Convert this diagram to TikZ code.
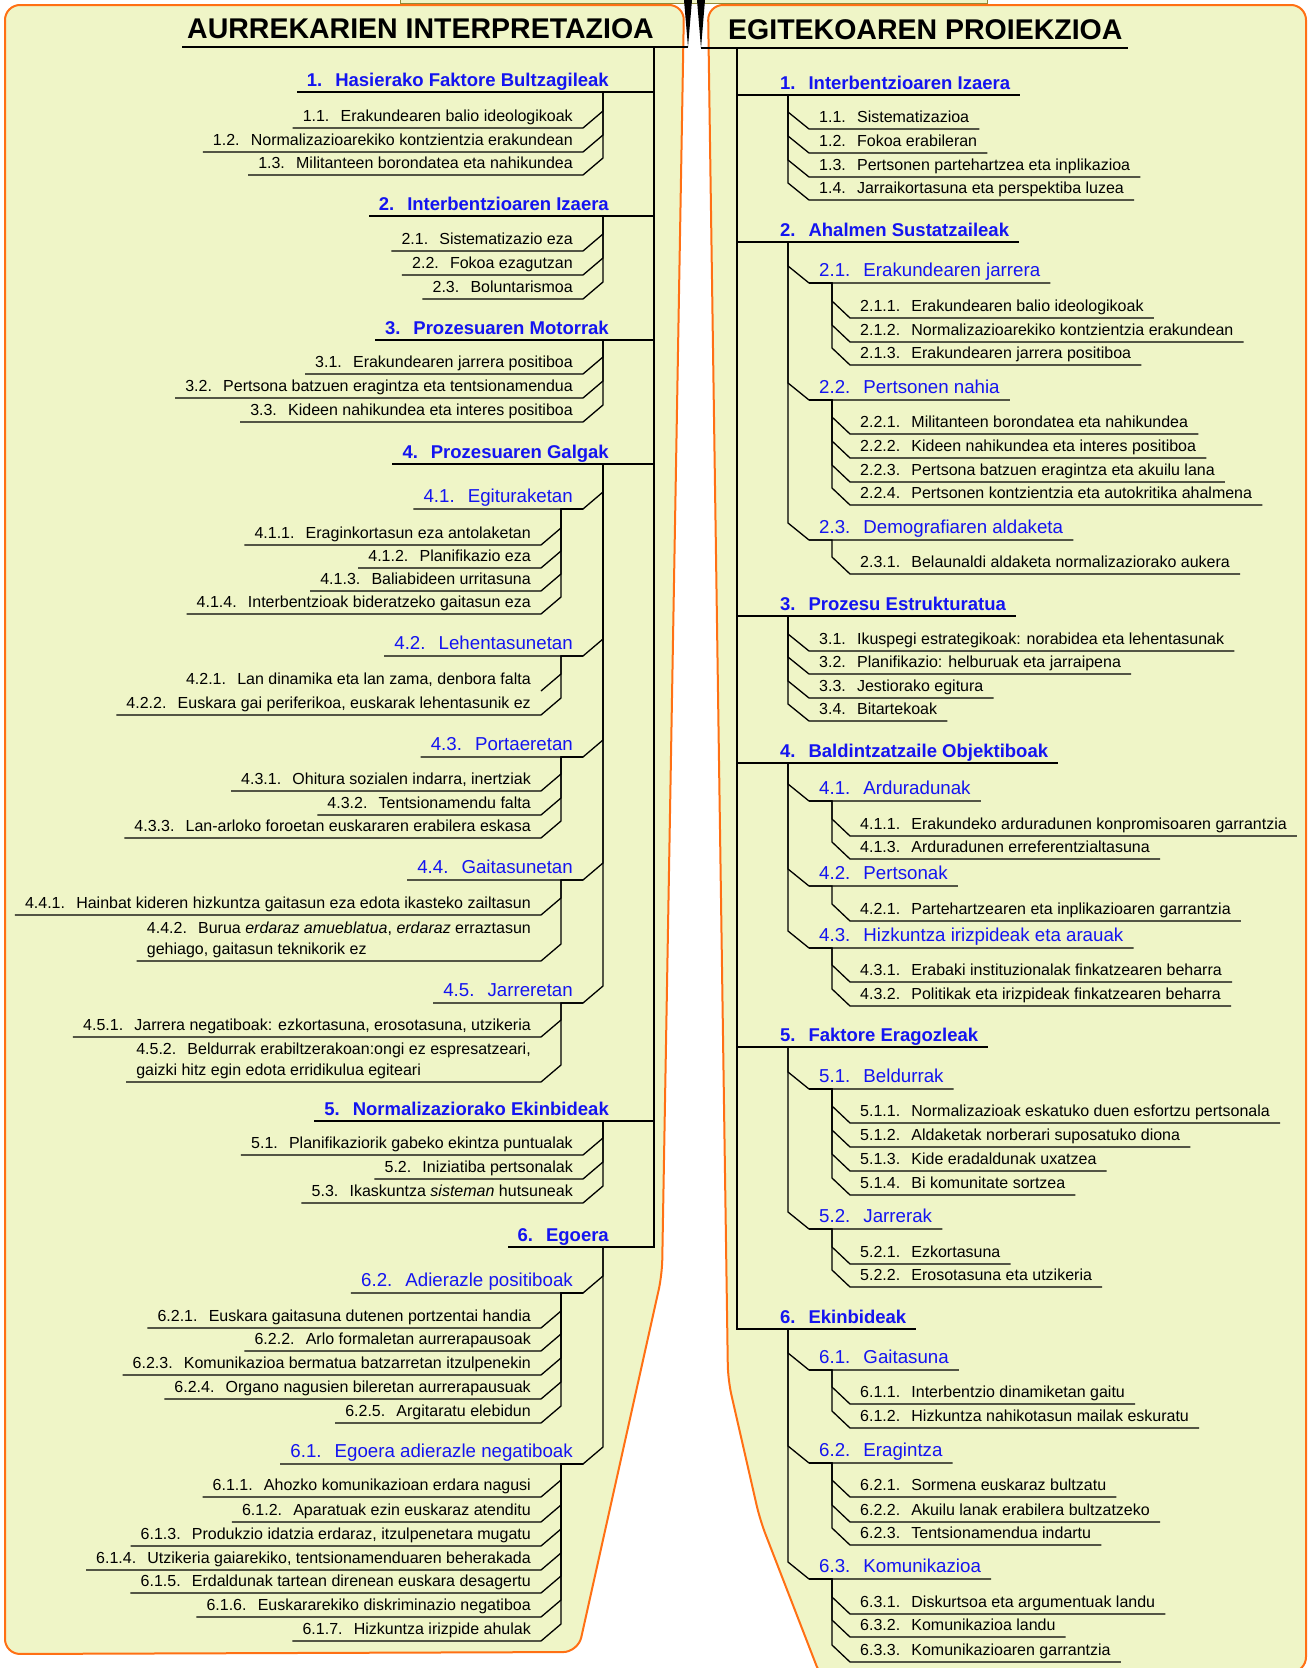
\documentclass[tikz,border=0pt]{standalone}
\usepackage{fontspec}
\setmainfont{Liberation Sans}
\definecolor{panelfill}{RGB}{239,245,199}
\definecolor{rim}{RGB}{255,112,20}
\definecolor{topicblue}{RGB}{20,20,240}
\newcommand{\itemno}[1]{#1\hskip0.7em\relax}
\tikzset{
	panel/.style={fill=panelfill, draw=rim, line width=2pt, rounded corners=15pt},
	link/.style={draw=black, line width=1.3pt},
	titlebox/.style={font=\fontsize{28.5}{30}\selectfont\bfseries, inner xsep=5pt, inner ysep=0pt, text height=20pt, text depth=8pt},
	topicbox/.style={font=\fontsize{18.5}{22}\selectfont\bfseries, text=topicblue, inner xsep=10pt, inner ysep=0pt, text height=14pt, text depth=5pt},
	subbox/.style={font=\fontsize{18.7}{22}\selectfont, text=topicblue, inner xsep=10pt, inner ysep=0pt, text height=14pt, text depth=6pt},
	leafbox/.style={font=\fontsize{16}{19}\selectfont, inner xsep=10pt, inner ysep=0pt, text height=12pt, text depth=6pt},
	leaftwo/.style={font=\fontsize{16}{21.5}\selectfont, align=left, inner xsep=10pt, inner ysep=2.5pt, anchor=south east},
	ltopic/.style={topicbox, anchor=south east},
	rtopic/.style={topicbox, anchor=south west},
	lsub/.style={subbox, anchor=south east},
	rsub/.style={subbox, anchor=south west},
	lleaf/.style={leafbox, anchor=south east},
	rleaf/.style={leafbox, anchor=south west}
}
\begin{document}
\begin{tikzpicture}[x=1pt, y=-1pt]
	\useasboundingbox (0,0) rectangle (1309,1668);
	\path[panel] (5,5) -- (684,5) -- (662,1275) -- (578,1652) -- (5,1654) -- cycle;
	\path[panel] (708,5) -- (1306,5) -- (1306,1672) -- (822,1680) -- (760,1520) -- (728,1380) -- cycle;

	\node (root)[draw=olive!60!gray, fill=panelfill, minimum width=587pt, minimum height=30pt, inner sep=0pt] at (693.5,-12) {};
	\coordinate (Ljoin) at (688,47);
	\coordinate (Rjoin) at (701,48);
	\coordinate (Ltrunk) at (654,47);
	\coordinate (Rtrunk) at (737,48);
	\fill (684,0) -- (692,0) -- (Ljoin) -- cycle;
	\fill (697,0) -- (705,0) -- (Rjoin) -- cycle;

	\node (Ltitle)[titlebox, anchor=south east] at (659,47) {AURREKARIEN INTERPRETAZIOA};
	\node (Rtitle)[titlebox, anchor=south west] at (723,48) {EGITEKOAREN PROIEKZIOA};
	\draw[link] (Ltitle.south west) -- (Ljoin);
	\draw[link] (Rjoin) -- (Rtitle.south east);

	\node (L1)[ltopic] at (619,92) {\itemno{1.}Hasierako Faktore Bultzagileak};
	\node (L11)[lleaf] at (583,128) {\itemno{1.1.}Erakundearen balio ideologikoak};
	\node (L12)[lleaf] at (583,152) {\itemno{1.2.}Normalizazioarekiko kontzientzia erakundean};
	\node (L13)[lleaf] at (583,175) {\itemno{1.3.}Militanteen borondatea eta nahikundea};
	\node (L2)[ltopic] at (619,216) {\itemno{2.}Interbentzioaren Izaera};
	\node (L21)[lleaf] at (583,251) {\itemno{2.1.}Sistematizazio eza};
	\node (L22)[lleaf] at (583,275) {\itemno{2.2.}Fokoa ezagutzan};
	\node (L23)[lleaf] at (583,299) {\itemno{2.3.}Boluntarismoa};
	\node (L3)[ltopic] at (619,340) {\itemno{3.}Prozesuaren Motorrak};
	\node (L31)[lleaf] at (583,374) {\itemno{3.1.}Erakundearen jarrera positiboa};
	\node (L32)[lleaf] at (583,398) {\itemno{3.2.}Pertsona batzuen eragintza eta tentsionamendua};
	\node (L33)[lleaf] at (583,422) {\itemno{3.3.}Kideen nahikundea eta interes positiboa};
	\node (L4)[ltopic] at (619,464) {\itemno{4.}Prozesuaren Galgak};
	\node (L41)[lsub] at (583,509) {\itemno{4.1.}Egituraketan};
	\node (L411)[lleaf] at (541,545) {\itemno{4.1.1.}Eraginkortasun eza antolaketan};
	\node (L412)[lleaf] at (541,568) {\itemno{4.1.2.}Planifikazio eza};
	\node (L413)[lleaf] at (541,591) {\itemno{4.1.3.}Baliabideen urritasuna};
	\node (L414)[lleaf] at (541,614) {\itemno{4.1.4.}Interbentzioak bideratzeko gaitasun eza};
	\node (L42)[lsub] at (583,656) {\itemno{4.2.}Lehentasunetan};
	\node (L421)[lleaf] at (541,691) {\itemno{4.2.1.}Lan dinamika eta lan zama, denbora falta};
	\node (L422)[lleaf] at (541,715) {\itemno{4.2.2.}Euskara gai periferikoa, euskarak lehentasunik ez};
	\node (L43)[lsub] at (583,757) {\itemno{4.3.}Portaeretan};
	\node (L431)[lleaf] at (541,791) {\itemno{4.3.1.}Ohitura sozialen indarra, inertziak};
	\node (L432)[lleaf] at (541,815) {\itemno{4.3.2.}Tentsionamendu falta};
	\node (L433)[lleaf] at (541,838) {\itemno{4.3.3.}Lan-arloko foroetan euskararen erabilera eskasa};
	\node (L44)[lsub] at (583,880) {\itemno{4.4.}Gaitasunetan};
	\node (L441)[lleaf] at (541,915) {\itemno{4.4.1.}Hainbat kideren hizkuntza gaitasun eza edota ikasteko zailtasun};
	\node (L442)[leaftwo] at (541,961) {\itemno{4.4.2.}Burua \textit{erdaraz amueblatua}, \textit{erdaraz} erraztasun\\gehiago, gaitasun teknikorik ez};
	\node (L45)[lsub] at (583,1003) {\itemno{4.5.}Jarreretan};
	\node (L451)[lleaf] at (541,1037) {\itemno{4.5.1.}Jarrera negatiboak: ezkortasuna, erosotasuna, utzikeria};
	\node (L452)[leaftwo] at (541,1082) {\itemno{4.5.2.}Beldurrak erabiltzerakoan:ongi ez espresatzeari,\\gaizki hitz egin edota erridikulua egiteari};
	\node (L5)[ltopic] at (619,1121) {\itemno{5.}Normalizaziorako Ekinbideak};
	\node (L51)[lleaf] at (583,1155) {\itemno{5.1.}Planifikaziorik gabeko ekintza puntualak};
	\node (L52)[lleaf] at (583,1179) {\itemno{5.2.}Iniziatiba pertsonalak};
	\node (L53)[lleaf] at (583,1203) {\itemno{5.3.}Ikaskuntza \textit{sisteman} hutsuneak};
	\node (L6)[ltopic] at (619,1247) {\itemno{6.}Egoera};
	\node (L62)[lsub] at (583,1293) {\itemno{6.2.}Adierazle positiboak};
	\node (L621)[lleaf] at (541,1328) {\itemno{6.2.1.}Euskara gaitasuna dutenen portzentai handia};
	\node (L622)[lleaf] at (541,1351) {\itemno{6.2.2.}Arlo formaletan aurrerapausoak};
	\node (L623)[lleaf] at (541,1375) {\itemno{6.2.3.}Komunikazioa bermatua batzarretan itzulpenekin};
	\node (L624)[lleaf] at (541,1399) {\itemno{6.2.4.}Organo nagusien bileretan aurrerapausuak};
	\node (L625)[lleaf] at (541,1423) {\itemno{6.2.5.}Argitaratu elebidun};
	\node (L61)[lsub] at (583,1464) {\itemno{6.1.}Egoera adierazle negatiboak};
	\node (L611)[lleaf] at (541,1497) {\itemno{6.1.1.}Ahozko komunikazioan erdara nagusi};
	\node (L612)[lleaf] at (541,1522) {\itemno{6.1.2.}Aparatuak ezin euskaraz atenditu};
	\node (L613)[lleaf] at (541,1546) {\itemno{6.1.3.}Produkzio idatzia erdaraz, itzulpenetara mugatu};
	\node (L614)[lleaf] at (541,1570) {\itemno{6.1.4.}Utzikeria gaiarekiko, tentsionamenduaren beherakada};
	\node (L615)[lleaf] at (541,1593) {\itemno{6.1.5.}Erdaldunak tartean direnean euskara desagertu};
	\node (L616)[lleaf] at (541,1617) {\itemno{6.1.6.}Euskararekiko diskriminazio negatiboa};
	\node (L617)[lleaf] at (541,1641) {\itemno{6.1.7.}Hizkuntza irizpide ahulak};

	\draw[link] (Ltrunk) |- (L1.south west);
	\draw[link] (Ltrunk) |- (L2.south west);
	\draw[link] (Ltrunk) |- (L3.south west);
	\draw[link] (Ltrunk) |- (L4.south west);
	\draw[link] (Ltrunk) |- (L5.south west);
	\draw[link] (Ltrunk) |- (L6.south west);
	\draw[link] (L11.south west) -- (L11.south east) -- ++(20,-17) |- (L1.south east);
	\draw[link] (L12.south west) -- (L12.south east) -- ++(20,-17) |- (L1.south east);
	\draw[link] (L13.south west) -- (L13.south east) -- ++(20,-17) |- (L1.south east);
	\draw[link] (L21.south west) -- (L21.south east) -- ++(20,-17) |- (L2.south east);
	\draw[link] (L22.south west) -- (L22.south east) -- ++(20,-17) |- (L2.south east);
	\draw[link] (L23.south west) -- (L23.south east) -- ++(20,-17) |- (L2.south east);
	\draw[link] (L31.south west) -- (L31.south east) -- ++(20,-17) |- (L3.south east);
	\draw[link] (L32.south west) -- (L32.south east) -- ++(20,-17) |- (L3.south east);
	\draw[link] (L33.south west) -- (L33.south east) -- ++(20,-17) |- (L3.south east);
	\draw[link] (L41.south west) -- (L41.south east) -- ++(20,-17) |- (L4.south east);
	\draw[link] (L42.south west) -- (L42.south east) -- ++(20,-17) |- (L4.south east);
	\draw[link] (L43.south west) -- (L43.south east) -- ++(20,-17) |- (L4.south east);
	\draw[link] (L44.south west) -- (L44.south east) -- ++(20,-17) |- (L4.south east);
	\draw[link] (L45.south west) -- (L45.south east) -- ++(20,-17) |- (L4.south east);
	\draw[link] (L411.south west) -- (L411.south east) -- ++(20,-17) |- (L41.south east);
	\draw[link] (L412.south west) -- (L412.south east) -- ++(20,-17) |- (L41.south east);
	\draw[link] (L413.south west) -- (L413.south east) -- ++(20,-17) |- (L41.south east);
	\draw[link] (L414.south west) -- (L414.south east) -- ++(20,-17) |- (L41.south east);
	\draw[link] (L421.south east) -- ++(20,-17) |- (L42.south east);
	\draw[link] (L422.south west) -- (L422.south east) -- ++(20,-17) |- (L42.south east);
	\draw[link] (L431.south west) -- (L431.south east) -- ++(20,-17) |- (L43.south east);
	\draw[link] (L432.south west) -- (L432.south east) -- ++(20,-17) |- (L43.south east);
	\draw[link] (L433.south west) -- (L433.south east) -- ++(20,-17) |- (L43.south east);
	\draw[link] (L441.south west) -- (L441.south east) -- ++(20,-17) |- (L44.south east);
	\draw[link] (L442.south west) -- (L442.south east) -- ++(20,-17) |- (L44.south east);
	\draw[link] (L451.south west) -- (L451.south east) -- ++(20,-17) |- (L45.south east);
	\draw[link] (L452.south west) -- (L452.south east) -- ++(20,-17) |- (L45.south east);
	\draw[link] (L51.south west) -- (L51.south east) -- ++(20,-17) |- (L5.south east);
	\draw[link] (L52.south west) -- (L52.south east) -- ++(20,-17) |- (L5.south east);
	\draw[link] (L53.south west) -- (L53.south east) -- ++(20,-17) |- (L5.south east);
	\draw[link] (L62.south west) -- (L62.south east) -- ++(20,-17) |- (L6.south east);
	\draw[link] (L61.south west) -- (L61.south east) -- ++(20,-17) |- (L6.south east);
	\draw[link] (L621.south west) -- (L621.south east) -- ++(20,-17) |- (L62.south east);
	\draw[link] (L622.south west) -- (L622.south east) -- ++(20,-17) |- (L62.south east);
	\draw[link] (L623.south west) -- (L623.south east) -- ++(20,-17) |- (L62.south east);
	\draw[link] (L624.south west) -- (L624.south east) -- ++(20,-17) |- (L62.south east);
	\draw[link] (L625.south west) -- (L625.south east) -- ++(20,-17) |- (L62.south east);
	\draw[link] (L611.south west) -- (L611.south east) -- ++(20,-17) |- (L61.south east);
	\draw[link] (L612.south west) -- (L612.south east) -- ++(20,-17) |- (L61.south east);
	\draw[link] (L613.south west) -- (L613.south east) -- ++(20,-17) |- (L61.south east);
	\draw[link] (L614.south west) -- (L614.south east) -- ++(20,-17) |- (L61.south east);
	\draw[link] (L615.south west) -- (L615.south east) -- ++(20,-17) |- (L61.south east);
	\draw[link] (L616.south west) -- (L616.south east) -- ++(20,-17) |- (L61.south east);
	\draw[link] (L617.south west) -- (L617.south east) -- ++(20,-17) |- (L61.south east);

	\node (R1)[rtopic] at (770,95) {\itemno{1.}Interbentzioaren Izaera};
	\node (R11)[rleaf] at (809,129) {\itemno{1.1.}Sistematizazioa};
	\node (R12)[rleaf] at (809,153) {\itemno{1.2.}Fokoa erabileran};
	\node (R13)[rleaf] at (809,177) {\itemno{1.3.}Pertsonen partehartzea eta inplikazioa};
	\node (R14)[rleaf] at (809,200) {\itemno{1.4.}Jarraikortasuna eta perspektiba luzea};
	\node (R2)[rtopic] at (770,242) {\itemno{2.}Ahalmen Sustatzaileak};
	\node (R21)[rsub] at (809,283) {\itemno{2.1.}Erakundearen jarrera};
	\node (R211)[rleaf] at (850,318) {\itemno{2.1.1.}Erakundearen balio ideologikoak};
	\node (R212)[rleaf] at (850,342) {\itemno{2.1.2.}Normalizazioarekiko kontzientzia erakundean};
	\node (R213)[rleaf] at (850,365) {\itemno{2.1.3.}Erakundearen jarrera positiboa};
	\node (R22)[rsub] at (809,400) {\itemno{2.2.}Pertsonen nahia};
	\node (R221)[rleaf] at (850,434) {\itemno{2.2.1.}Militanteen borondatea eta nahikundea};
	\node (R222)[rleaf] at (850,458) {\itemno{2.2.2.}Kideen nahikundea eta interes positiboa};
	\node (R223)[rleaf] at (850,482) {\itemno{2.2.3.}Pertsona batzuen eragintza eta akuilu lana};
	\node (R224)[rleaf] at (850,505) {\itemno{2.2.4.}Pertsonen kontzientzia eta autokritika ahalmena};
	\node (R23)[rsub] at (809,540) {\itemno{2.3.}Demografiaren aldaketa};
	\node (R231)[rleaf] at (850,574) {\itemno{2.3.1.}Belaunaldi aldaketa normalizaziorako aukera};
	\node (R3)[rtopic] at (770,616) {\itemno{3.}Prozesu Estrukturatua};
	\node (R31)[rleaf] at (809,651) {\itemno{3.1.}Ikuspegi estrategikoak: norabidea eta lehentasunak};
	\node (R32)[rleaf] at (809,674) {\itemno{3.2.}Planifikazio: helburuak eta jarraipena};
	\node (R33)[rleaf] at (809,698) {\itemno{3.3.}Jestiorako egitura};
	\node (R34)[rleaf] at (809,721) {\itemno{3.4.}Bitartekoak};
	\node (R4)[rtopic] at (770,763) {\itemno{4.}Baldintzatzaile Objektiboak};
	\node (R41)[rsub] at (809,801) {\itemno{4.1.}Arduradunak};
	\node (R411)[rleaf] at (850,836) {\itemno{4.1.1.}Erakundeko arduradunen konpromisoaren garrantzia};
	\node (R413)[rleaf] at (850,859) {\itemno{4.1.3.}Arduradunen erreferentzialtasuna};
	\node (R42)[rsub] at (809,886) {\itemno{4.2.}Pertsonak};
	\node (R421)[rleaf] at (850,921) {\itemno{4.2.1.}Partehartzearen eta inplikazioaren garrantzia};
	\node (R43)[rsub] at (809,948) {\itemno{4.3.}Hizkuntza irizpideak eta arauak};
	\node (R431)[rleaf] at (850,982) {\itemno{4.3.1.}Erabaki instituzionalak finkatzearen beharra};
	\node (R432)[rleaf] at (850,1006) {\itemno{4.3.2.}Politikak eta irizpideak finkatzearen beharra};
	\node (R5)[rtopic] at (770,1047) {\itemno{5.}Faktore Eragozleak};
	\node (R51)[rsub] at (809,1089) {\itemno{5.1.}Beldurrak};
	\node (R511)[rleaf] at (850,1123) {\itemno{5.1.1.}Normalizazioak eskatuko duen esfortzu pertsonala};
	\node (R512)[rleaf] at (850,1147) {\itemno{5.1.2.}Aldaketak norberari suposatuko diona};
	\node (R513)[rleaf] at (850,1171) {\itemno{5.1.3.}Kide eradaldunak uxatzea};
	\node (R514)[rleaf] at (850,1195) {\itemno{5.1.4.}Bi komunitate sortzea};
	\node (R52)[rsub] at (809,1229) {\itemno{5.2.}Jarrerak};
	\node (R521)[rleaf] at (850,1264) {\itemno{5.2.1.}Ezkortasuna};
	\node (R522)[rleaf] at (850,1287) {\itemno{5.2.2.}Erosotasuna eta utzikeria};
	\node (R6)[rtopic] at (770,1329) {\itemno{6.}Ekinbideak};
	\node (R61)[rsub] at (809,1370) {\itemno{6.1.}Gaitasuna};
	\node (R611)[rleaf] at (850,1404) {\itemno{6.1.1.}Interbentzio dinamiketan gaitu};
	\node (R612)[rleaf] at (850,1428) {\itemno{6.1.2.}Hizkuntza nahikotasun mailak eskuratu};
	\node (R62)[rsub] at (809,1463) {\itemno{6.2.}Eragintza};
	\node (R621)[rleaf] at (850,1497) {\itemno{6.2.1.}Sormena euskaraz bultzatu};
	\node (R622)[rleaf] at (850,1522) {\itemno{6.2.2.}Akuilu lanak erabilera bultzatzeko};
	\node (R623)[rleaf] at (850,1545) {\itemno{6.2.3.}Tentsionamendua indartu};
	\node (R63)[rsub] at (809,1579) {\itemno{6.3.}Komunikazioa};
	\node (R631)[rleaf] at (850,1614) {\itemno{6.3.1.}Diskurtsoa eta argumentuak landu};
	\node (R632)[rleaf] at (850,1637) {\itemno{6.3.2.}Komunikazioa landu};
	\node (R633)[rleaf] at (850,1662) {\itemno{6.3.3.}Komunikazioaren garrantzia};

	\draw[link] (Rtrunk) |- (R1.south east);
	\draw[link] (Rtrunk) |- (R2.south east);
	\draw[link] (Rtrunk) |- (R3.south east);
	\draw[link] (Rtrunk) |- (R4.south east);
	\draw[link] (Rtrunk) |- (R5.south east);
	\draw[link] (Rtrunk) |- (R6.south east);
	\draw[link] (R11.south east) -- (R11.south west) -- ++(-21,-17) |- (R1.south west);
	\draw[link] (R12.south east) -- (R12.south west) -- ++(-21,-17) |- (R1.south west);
	\draw[link] (R13.south east) -- (R13.south west) -- ++(-21,-17) |- (R1.south west);
	\draw[link] (R14.south east) -- (R14.south west) -- ++(-21,-17) |- (R1.south west);
	\draw[link] (R21.south east) -- (R21.south west) -- ++(-21,-17) |- (R2.south west);
	\draw[link] (R22.south east) -- (R22.south west) -- ++(-21,-17) |- (R2.south west);
	\draw[link] (R23.south east) -- (R23.south west) -- ++(-21,-17) |- (R2.south west);
	\draw[link] (R211.south east) -- (R211.south west) -- ++(-18,-17) |- (R21.south west);
	\draw[link] (R212.south east) -- (R212.south west) -- ++(-18,-17) |- (R21.south west);
	\draw[link] (R213.south east) -- (R213.south west) -- ++(-18,-17) |- (R21.south west);
	\draw[link] (R221.south east) -- (R221.south west) -- ++(-18,-17) |- (R22.south west);
	\draw[link] (R222.south east) -- (R222.south west) -- ++(-18,-17) |- (R22.south west);
	\draw[link] (R223.south east) -- (R223.south west) -- ++(-18,-17) |- (R22.south west);
	\draw[link] (R224.south east) -- (R224.south west) -- ++(-18,-17) |- (R22.south west);
	\draw[link] (R231.south east) -- (R231.south west) -- ++(-18,-17) |- (R23.south west);
	\draw[link] (R31.south east) -- (R31.south west) -- ++(-21,-17) |- (R3.south west);
	\draw[link] (R32.south east) -- (R32.south west) -- ++(-21,-17) |- (R3.south west);
	\draw[link] (R33.south east) -- (R33.south west) -- ++(-21,-17) |- (R3.south west);
	\draw[link] (R34.south east) -- (R34.south west) -- ++(-21,-17) |- (R3.south west);
	\draw[link] (R41.south east) -- (R41.south west) -- ++(-21,-17) |- (R4.south west);
	\draw[link] (R42.south east) -- (R42.south west) -- ++(-21,-17) |- (R4.south west);
	\draw[link] (R43.south east) -- (R43.south west) -- ++(-21,-17) |- (R4.south west);
	\draw[link] (R411.south east) -- (R411.south west) -- ++(-18,-17) |- (R41.south west);
	\draw[link] (R413.south east) -- (R413.south west) -- ++(-18,-17) |- (R41.south west);
	\draw[link] (R421.south east) -- (R421.south west) -- ++(-18,-17) |- (R42.south west);
	\draw[link] (R431.south east) -- (R431.south west) -- ++(-18,-17) |- (R43.south west);
	\draw[link] (R432.south east) -- (R432.south west) -- ++(-18,-17) |- (R43.south west);
	\draw[link] (R51.south east) -- (R51.south west) -- ++(-21,-17) |- (R5.south west);
	\draw[link] (R52.south east) -- (R52.south west) -- ++(-21,-17) |- (R5.south west);
	\draw[link] (R511.south east) -- (R511.south west) -- ++(-18,-17) |- (R51.south west);
	\draw[link] (R512.south east) -- (R512.south west) -- ++(-18,-17) |- (R51.south west);
	\draw[link] (R513.south east) -- (R513.south west) -- ++(-18,-17) |- (R51.south west);
	\draw[link] (R514.south east) -- (R514.south west) -- ++(-18,-17) |- (R51.south west);
	\draw[link] (R521.south east) -- (R521.south west) -- ++(-18,-17) |- (R52.south west);
	\draw[link] (R522.south east) -- (R522.south west) -- ++(-18,-17) |- (R52.south west);
	\draw[link] (R61.south east) -- (R61.south west) -- ++(-21,-17) |- (R6.south west);
	\draw[link] (R62.south east) -- (R62.south west) -- ++(-21,-17) |- (R6.south west);
	\draw[link] (R63.south east) -- (R63.south west) -- ++(-21,-17) |- (R6.south west);
	\draw[link] (R611.south east) -- (R611.south west) -- ++(-18,-17) |- (R61.south west);
	\draw[link] (R612.south east) -- (R612.south west) -- ++(-18,-17) |- (R61.south west);
	\draw[link] (R621.south east) -- (R621.south west) -- ++(-18,-17) |- (R62.south west);
	\draw[link] (R622.south east) -- (R622.south west) -- ++(-18,-17) |- (R62.south west);
	\draw[link] (R623.south east) -- (R623.south west) -- ++(-18,-17) |- (R62.south west);
	\draw[link] (R631.south east) -- (R631.south west) -- ++(-18,-17) |- (R63.south west);
	\draw[link] (R632.south east) -- (R632.south west) -- ++(-18,-17) |- (R63.south west);
	\draw[link] (R633.south east) -- (R633.south west) -- ++(-18,-17) |- (R63.south west);
\end{tikzpicture}
\end{document}
